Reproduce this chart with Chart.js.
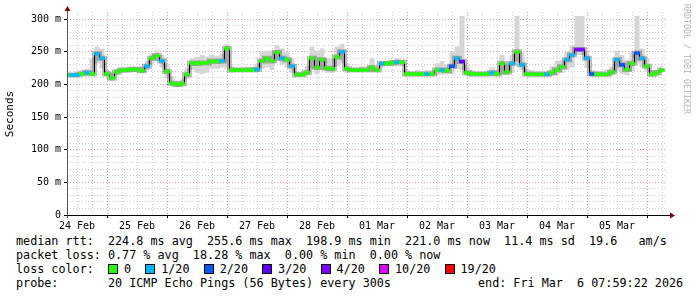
<!DOCTYPE html>
<html><head><meta charset="utf-8">
<script src="https://cdn.jsdelivr.net/npm/chart.js@4/dist/chart.umd.min.js"></script>
<style>
html,body{margin:0;padding:0;background:#fff;}
#wrap{position:relative;width:697px;height:297px;overflow:hidden;background:#fff;}
#c{position:absolute;left:0;top:0;}
.t{position:absolute;font-family:"DejaVu Sans Mono",monospace;font-size:11.75px;color:#000;white-space:pre;line-height:14px;}
.b{display:inline-block;width:8px;height:8px;border:1px solid #000;margin-right:6px;vertical-align:-1px;}
#ylab{position:absolute;left:-40px;top:107px;width:100px;height:14px;line-height:14px;text-align:center;font-family:"DejaVu Sans Mono",monospace;font-size:11px;transform:rotate(-90deg);}
#rrd{position:absolute;left:632px;top:54px;width:110px;height:10px;line-height:10px;text-align:center;font-family:"DejaVu Sans Mono",monospace;font-size:8.3px;color:#b4b4b4;transform:rotate(90deg);white-space:pre;}
</style></head>
<body><div id="wrap">
<canvas id="c" width="697" height="232"></canvas>
<div id="ylab">Seconds</div>
<div id="rrd">RRDTOOL / TOBI OETIKER</div>
<div class="t" id="l1" style="left:16px;top:234px;"></div>
<div class="t" id="l2" style="left:16px;top:248px;"></div>
<div class="t" id="l3" style="left:16px;top:262px;"></div>
<div class="t" id="l4" style="left:16px;top:276px;"></div>
<div class="t" id="l5" style="left:478px;top:276px;"></div>
</div>
<script>
// ---- data (median RTT in ms, every 2 hours from start) ----
const dayLabels = ['24 Feb','25 Feb','26 Feb','27 Feb','28 Feb','01 Mar','02 Mar','03 Mar','04 Mar','05 Mar'];
const yLabels = ['0','50 m','100 m','150 m','200 m','250 m','300 m'];
const median = [
 214.5,214.5,214.5,216,218,216,247,240,216,210,
 219,222,222,223,223,221,228,240,244,236,
 220,202,200,201,215,233,232,233,233,236,
 235,236,255,222,222,222,222,222,223,236,
 240,236,249,240,238,228,215,215,218,240,
 226,238,225,224,242,250,224,222,222,222,
 222,226,222,232,232,233,234,234,216,216,
 216,216,216,216,222,222,221,228,240,235,
 218,216,216,216,216,218,216,232,219,232,
 250,230,216,215.5,215.5,215.5,215.5,218,222,227,
 238,245,253.5,253.5,240,216,215.5,215.5,215.5,219,
 238,230,223,232,248,240,228,215.5,218,222,
 null];
const lossCount = [
 0,1,1,0,1,0,1,1,0,0,
 0,0,0,0,0,0,1,0,0,1,
 0,0,0,0,0,0,0,0,0,0,
 0,1,0,0,0,0,0,0,1,0,
 0,0,0,1,0,1,0,0,0,0,
 0,0,0,0,0,1,0,0,0,0,
 0,0,0,1,0,0,1,0,0,0,
 0,0,1,0,0,1,0,2,1,3,
 0,0,0,0,0,1,0,0,0,1,
 0,1,0,0,0,0,1,0,0,0,
 1,1,4,4,1,2,0,0,0,0,
 1,2,0,0,2,1,0,0,0,0,
 0];
const smokeHigh = [
 217,218,220,222,224,240,258,255,222,218,
 224,226,226,228,227,228,236,248,252,245,
 232,212,205,208,225,240,242,245,243,246,
 244,247,262,228,226,226,227,227,232,250,
 252,252,260,255,250,240,220,220,228,258,
 252,255,240,240,258,262,232,226,226,228,
 228,240,226,236,236,238,240,238,222,220,
 222,221,222,222,232,236,230,250,258,305,
 230,222,220,220,221,226,222,245,232,245,
 305,250,224,222,221,221,221,228,236,238,
 250,260,305,305,252,222,221,221,222,228,
 252,245,238,250,305,255,240,222,222,226,
 null];
const smokeLow = [
 212,212,212,213,214,214,232,225,212,205,
 214,218,218,219,219,217,222,230,236,226,
 210,198,196,197,208,222,218,216,218,224,
 224,226,224,218,219,219,219,219,219,224,
 226,222,236,230,226,218,212,212,214,224,
 216,222,218,218,228,232,218,219,219,219,
 219,219,219,226,228,228,228,228,212,212,
 212,212,212,212,214,215,216,216,224,222,
 213,212,212,212,212,213,212,214,214,218,
 235,222,212,212,212,212,212,213,214,218,
 222,226,245,245,225,212,212,212,212,214,
 220,216,214,220,232,226,220,212,213,218,
 null];
const lossLevels = [0,1,2,3,4,10,19];
const lossNames  = ['0','1/20','2/20','3/20','4/20','10/20','19/20'];
const lossColors = ['#26ff00','#00b8ff','#0059ff','#5e00ff','#7e00ff','#dd00ff','#ff0000'];
const stepHours = 2;

// ---- legend text ----
document.getElementById('l1').textContent = 'median rtt:  224.8 ms avg  255.6 ms max  198.9 ms min  221.0 ms now  11.4 ms sd  19.6   am/s';
document.getElementById('l2').textContent = 'packet loss: 0.77 % avg  18.28 % max  0.00 % min  0.00 % now';
document.getElementById('l3').innerHTML = 'loss color:  ' + lossNames.map((n,i)=>'<span class="b" style="background:'+lossColors[i]+'"></span>'+n).join('  ');
document.getElementById('l4').textContent = 'probe:       20 ICMP Echo Pings (56 Bytes) every 300s';
document.getElementById('l5').textContent = 'end: Fri Mar  6 07:59:22 2026';

// ---- chart ----
const hours = median.map((_, i) => i * stepHours);
const pts = arr => arr.map((v, i) => ({x: hours[i], y: v}));
const colorFor = n => lossColors[Math.max(0, lossLevels.indexOf(n))];
const barHalf = 2.2;
const xTicks = []; for (let h = 4; h <= 240; h += 6) xTicks.push({value: h});
const yTicks = []; for (let v = 0; v <= 300; v += 10) yTicks.push({value: v});
const MONO = 'DejaVu Sans Mono';

const axesPlugin = {
  id: 'axesArrows',
  afterDatasetsDraw(chart) {
    const {ctx, chartArea: a} = chart;
    ctx.save();
    ctx.lineWidth = 1;
    ctx.strokeStyle = '#555';
    ctx.beginPath(); ctx.moveTo(a.left + 0.5, a.bottom + 3); ctx.lineTo(a.left + 0.5, a.top - 3); ctx.stroke();
    ctx.strokeStyle = '#000';
    ctx.beginPath(); ctx.moveTo(a.left - 3, a.bottom + 0.5); ctx.lineTo(a.right + 4, a.bottom + 0.5); ctx.stroke();
    ctx.fillStyle = '#800000';
    ctx.beginPath(); ctx.moveTo(a.left + 0.5, a.top - 6); ctx.lineTo(a.left - 2.5, a.top - 1); ctx.lineTo(a.left + 3.5, a.top - 1); ctx.closePath(); ctx.fill();
    ctx.beginPath(); ctx.moveTo(a.right + 8, a.bottom + 0.5); ctx.lineTo(a.right + 3, a.bottom - 2.5); ctx.lineTo(a.right + 3, a.bottom + 3.5); ctx.closePath(); ctx.fill();
    ctx.restore();
  }
};

new Chart(document.getElementById('c'), {
  type: 'line',
  data: { datasets: [
    {label:'smokeHigh', data: pts(smokeHigh), fill: '+1', backgroundColor: '#d6d6d6', borderWidth: 0, pointRadius: 0, stepped: 'middle', order: 6},
    {label:'smokeLow', data: pts(smokeLow), fill: false, borderWidth: 0, borderColor: 'rgba(0,0,0,0)', pointRadius: 0, stepped: 'middle', order: 7},
    {label:'smokeCore', data: pts(median), fill: false, borderColor: 'rgba(0,0,0,0.25)', borderWidth: 5, pointRadius: 0, stepped: 'middle', order: 5},
    {label:'median', data: pts(median), fill: false, borderColor: '#000', borderWidth: 1, pointRadius: 0, stepped: 'middle', order: 3},
    {type:'bar', label:'loss', data: median.map((v, i) => ({x: hours[i], y: v == null ? null : [v - barHalf, v + barHalf]})),
     backgroundColor: lossCount.map(colorFor), borderWidth: 0, barPercentage: 1, categoryPercentage: 1, order: 1}
  ]},
  options: {
    responsive: false, animation: false, devicePixelRatio: 1,
    layout: {padding: {top: 12, right: 30, left: 0, bottom: 0}},
    plugins: {legend: {display: false}, tooltip: {enabled: false}},
    scales: {
      x: {
        type: 'linear', min: 0, max: 240, offset: false,
        afterBuildTicks: s => { s.ticks = xTicks.map(t => ({value: t.value})); },
        afterFit: s => { s.height = 17; },
        ticks: {autoSkip: false, maxRotation: 0, padding: 2, color: '#000', font: {family: MONO, size: 10},
          callback: v => ((v - 4) % 24 === 0 ? dayLabels[(v - 4) / 24] : '')},
        grid: {offset: false, color: c => (c.tick && (c.tick.value - 16) % 24 === 0) ? 'rgba(230,120,120,0.75)' : 'rgba(170,170,170,0.6)',
          tickColor: c => (c.tick && (c.tick.value - 16) % 24 === 0) ? '#000' : 'rgba(0,0,0,0)', tickLength: 3, lineWidth: 1},
        border: {display: false, dash: [1, 2]}
      },
      y: {
        type: 'linear', min: 0, max: 311,
        afterBuildTicks: s => { s.ticks = yTicks.map(t => ({value: t.value})); },
        afterFit: s => { s.width = 67; },
        ticks: {autoSkip: false, padding: 3, color: '#000', font: {family: MONO, size: 10},
          callback: v => (v % 50 === 0 ? yLabels[v / 50] : '')},
        grid: {color: c => (c.tick && c.tick.value % 50 === 0) ? 'rgba(230,120,120,0.75)' : 'rgba(170,170,170,0.6)',
          tickColor: c => (c.tick && c.tick.value % 50 === 0) ? '#000' : 'rgba(0,0,0,0)', tickLength: 3, lineWidth: 1},
        border: {display: false, dash: [1, 2]}
      }
    }
  },
  plugins: [axesPlugin]
});
</script>
</body></html>
